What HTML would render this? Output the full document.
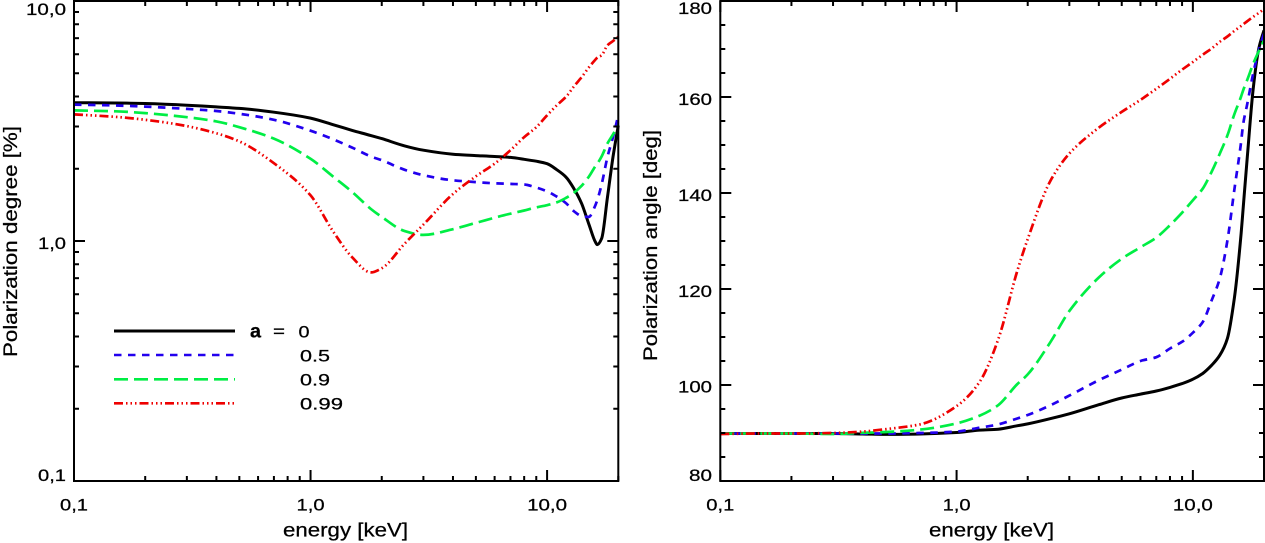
<!DOCTYPE html>
<html>
<head>
<meta charset="utf-8">
<title>Polarization degree and angle vs energy</title>
<style>
html,body{margin:0;padding:0;background:#fff;width:1265px;height:543px;overflow:hidden}
svg{display:block}
text{font-family:"Liberation Sans",sans-serif;font-size:17px;fill:#000;stroke:#000;stroke-width:.25px}
text.title{font-size:19px}
</style>
</head>
<body>
<svg id="figure" width="1265" height="543" viewBox="0 0 1265 543" xmlns="http://www.w3.org/2000/svg">
  <g id="left-panel"></g>
  <g id="right-panel"></g>

  <text class="title" x="283" y="536.5" textLength="125" lengthAdjust="spacingAndGlyphs">energy [keV]</text>
  <text class="title" x="929" y="536.5" textLength="125" lengthAdjust="spacingAndGlyphs">energy [keV]</text>
  <text class="title" transform="translate(17,357) rotate(-90)" textLength="231" lengthAdjust="spacingAndGlyphs">Polarization degree [%]</text>
  <text class="title" transform="translate(657,361) rotate(-90)" textLength="231" lengthAdjust="spacingAndGlyphs">Polarization angle [deg]</text>

  <g>
    <line x1="114" x2="235" y1="331" y2="331" stroke="#000" stroke-width="3"/>
    <line x1="114" x2="235" y1="355" y2="355" stroke="#2200ee" stroke-width="2.6" stroke-dasharray="7.5 6.5"/>
    <line x1="114" x2="235" y1="379.3" y2="379.3" stroke="#00ee44" stroke-width="2.6" stroke-dasharray="14 6"/>
    <line x1="114" x2="235" y1="403.3" y2="403.3" stroke="#ee0000" stroke-width="2.6" stroke-dasharray="9 3 1.5 3 1.5 3 1.5 3"/>
    <text class="title" x="250" y="337.5" font-weight="bold" textLength="11" lengthAdjust="spacingAndGlyphs">a</text>
    <text x="273" y="337" textLength="12" lengthAdjust="spacingAndGlyphs">=</text>
    <text x="298.5" y="337.5" textLength="11" lengthAdjust="spacingAndGlyphs">0</text>
    <text x="300" y="361.5" textLength="30" lengthAdjust="spacingAndGlyphs">0.5</text>
    <text x="300" y="385.5" textLength="30" lengthAdjust="spacingAndGlyphs">0.9</text>
    <text x="300" y="409.5" textLength="43" lengthAdjust="spacingAndGlyphs">0.99</text>
  </g>
</svg>
<script>
const energies = [0.1,0.15,0.2,0.3,0.4,0.5,0.7,1,1.25,1.5,1.8,2,2.5,3,4,5,6,7,8,9,10,11,12,13,14,15,16,16.3,17,18,19,20];

const degreeA0   = [3.77,3.76,3.74,3.68,3.62,3.57,3.44,3.25,3.05,2.89,2.75,2.67,2.49,2.39,2.30,2.27,2.25,2.23,2.19,2.15,2.10,1.98,1.85,1.65,1.43,1.18,0.99,0.966,1.023,1.525,2.24,3.03];
const degreeA05  = [3.70,3.67,3.63,3.55,3.48,3.39,3.20,2.88,2.65,2.45,2.25,2.17,1.98,1.88,1.79,1.76,1.74,1.73,1.72,1.67,1.61,1.53,1.44,1.33,1.27,1.26,1.41,1.48,1.72,2.24,2.71,3.34];
const degreeA09  = [3.50,3.47,3.41,3.28,3.15,2.98,2.67,2.20,1.85,1.60,1.36,1.26,1.10,1.06,1.12,1.19,1.25,1.30,1.34,1.38,1.41,1.45,1.51,1.59,1.70,1.85,2.05,2.10,2.25,2.55,2.78,3.03];
const degreeA099 = [3.37,3.29,3.20,3.01,2.81,2.60,2.11,1.55,1.09,0.855,0.74,0.77,0.975,1.17,1.57,1.86,2.10,2.39,2.71,2.98,3.34,3.68,3.98,4.41,4.82,5.28,5.70,5.81,5.94,6.54,6.81,7.08];

const angleA0   = [89.9,89.9,89.9,89.9,89.8,89.7,89.8,90.1,90.6,90.8,91.5,91.9,93,94,95.9,97.3,98.1,98.75,99.5,100.3,101.2,102.4,104.1,106.2,109.7,118.3,131.5,136.4,147.5,161.7,170,173.9];
const angleA05  = [89.9,89.9,89.9,89.9,89.9,89.9,90,90.3,91.1,91.8,93,93.75,95.8,97.8,101,103.2,105,105.8,107.6,109,110.9,113.1,117.6,122.2,130.1,140.9,150.6,154.1,158.6,164.9,169.7,173.2];
const angleA09  = [89.9,89.9,89.9,89.8,90.05,90.2,90.7,92,93.6,95.8,100.1,102.2,109,115.4,122.4,126.3,128.7,130.7,133.3,135.9,138.5,140.9,144.4,148.2,152,156.5,160.1,161.3,163.6,166.9,169.5,171.8];
const angleA099 = [89.8,89.9,89.9,90,90.3,90.8,91.8,95.6,100.6,109.5,123.5,130.4,142.6,148.2,153.6,156.9,159.4,161.7,163.8,165.7,167.3,168.8,170.1,171.5,172.6,173.8,174.8,175.1,175.8,176.7,177.5,178.3];

const xMajorTicks = [0.1,1,10];
const xMinorTicks = [0.2,0.3,0.4,0.5,0.6,0.7,0.8,0.9,2,3,4,5,6,7,8,9,20];
const xTickLabels = ["0,1","1,0","10,0"];
const degreeMajorTicks = [0.1,1,10];
const degreeMinorTicks = [0.2,0.3,0.4,0.5,0.6,0.7,0.8,0.9,2,3,4,5,6,7,8,9];
const degreeTickLabels = ["0,1","1,0","10,0"];
const angleMajorTicks = [80,100,120,140,160,180];
const angleMinorTicks = [85,90,95,105,110,115,125,130,135,145,150,155,165,170,175];
const angleTickLabels = ["80","100","120","140","160","180"];

const seriesNames = ["a-0","a-0.5","a-0.9","a-0.99"];
const seriesColors = ["#000000","#2200ee","#00ee44","#ee0000"];
const seriesDashes = ["none","7.5 6.5","14 6","9 3 1.5 3 1.5 3 1.5 3"];
const seriesWidths = [3,2.7,2.7,2.7];

const NS = "http://www.w3.org/2000/svg";
const TOP = 1, BOTTOM = 481;

function xAxis(left, right) {
  return function (e) { return left + (right - left) * Math.log10(e / 0.1) / Math.log10(200); };
}
function logY(v) { return TOP + (BOTTOM - TOP) * (1 - Math.log10(v)) / 2; }
function linY(v) { return BOTTOM - (BOTTOM - TOP) * (v - 80) / 100; }

function monotonePath(xs, ys) {
  const n = xs.length, m = [], d = [];
  for (let i = 0; i < n - 1; i++) d.push((ys[i + 1] - ys[i]) / (xs[i + 1] - xs[i]));
  m.push(d[0]);
  for (let i = 1; i < n - 1; i++) {
    if (d[i - 1] * d[i] <= 0) m.push(0);
    else {
      const h0 = xs[i] - xs[i - 1], h1 = xs[i + 1] - xs[i];
      m.push(3 * (h0 + h1) / ((2 * h1 + h0) / d[i - 1] + (h1 + 2 * h0) / d[i]));
    }
  }
  m.push(d[n - 2]);
  let s = "M" + xs[0].toFixed(1) + " " + ys[0].toFixed(1);
  for (let i = 0; i < n - 1; i++) {
    const h = (xs[i + 1] - xs[i]) / 3;
    s += "C" + (xs[i] + h).toFixed(1) + " " + (ys[i] + m[i] * h).toFixed(1) + " " +
         (xs[i + 1] - h).toFixed(1) + " " + (ys[i + 1] - m[i + 1] * h).toFixed(1) + " " +
         xs[i + 1].toFixed(1) + " " + ys[i + 1].toFixed(1);
  }
  return s;
}

function addLine(parent, x1, y1, x2, y2) {
  const l = document.createElementNS(NS, "line");
  
  
  l.setAttribute("x1", x1); l.setAttribute("y1", y1);
  l.setAttribute("x2", x2); l.setAttribute("y2", y2);
  l.setAttribute("stroke", "#000");
  l.setAttribute("stroke-width", "2");
  parent.appendChild(l);
}

function addLabel(parent, str, x, y, width) {
  const t = document.createElementNS(NS, "text");
  
  
  t.setAttribute("x", x);
  t.setAttribute("y", y);
  t.setAttribute("textLength", width);
  t.setAttribute("lengthAdjust", "spacingAndGlyphs");
  t.textContent = str;
  parent.appendChild(t);
}

function drawPanel(parent, left, right, yFn, yMajor, yMinor, yLabels, yLabelRight, yBaselines, series) {
  const xFn = xAxis(left, right);

  series.forEach(function (vals, i) {
    const p = document.createElementNS(NS, "path");
    
    
    p.setAttribute("d", monotonePath(energies.map(xFn), vals.map(yFn)));
    p.setAttribute("fill", "none");
    p.setAttribute("stroke", seriesColors[i]);
    p.setAttribute("stroke-width", seriesWidths[i]);
    p.setAttribute("stroke-linejoin", "round");
    if (seriesDashes[i] !== "none") p.setAttribute("stroke-dasharray", seriesDashes[i]);
    parent.appendChild(p);
  });

  const frame = document.createElementNS(NS, "rect");
  
  
  frame.setAttribute("x", left);
  frame.setAttribute("y", TOP);
  frame.setAttribute("width", right - left);
  frame.setAttribute("height", BOTTOM - TOP);
  frame.setAttribute("fill", "none");
  frame.setAttribute("stroke", "#000");
  frame.setAttribute("stroke-width", "2");
  parent.appendChild(frame);

  xMajorTicks.forEach(function (e) {
    addLine(parent, xFn(e), BOTTOM, xFn(e), BOTTOM - 11);
    addLine(parent, xFn(e), TOP, xFn(e), TOP + 11);
  });
  xMinorTicks.forEach(function (e) {
    addLine(parent, xFn(e), BOTTOM, xFn(e), BOTTOM - 5);
    addLine(parent, xFn(e), TOP, xFn(e), TOP + 5);
  });
  yMajor.forEach(function (v) {
    addLine(parent, left, yFn(v), left + 11, yFn(v));
    addLine(parent, right, yFn(v), right - 11, yFn(v));
  });
  yMinor.forEach(function (v) {
    addLine(parent, left, yFn(v), left + 5, yFn(v));
    addLine(parent, right, yFn(v), right - 5, yFn(v));
  });

  xMajorTicks.forEach(function (e, i) {
    const w = xTickLabels[i].length > 3 ? 40 : 28;
    addLabel(parent, xTickLabels[i], xFn(e) - w / 2, 510.5, w);
  });
  yLabels.forEach(function (s, i) {
    const w = s.indexOf(",") >= 0 ? (s.length > 3 ? 40 : 28) : (s.length > 2 ? 34 : 23);
    addLabel(parent, s, yLabelRight - w, yBaselines[i], w);
  });
}

const degreeLabelBaselines = [481, 249, 15];
const angleLabelBaselines = [481, 392.5, 297, 201, 105, 14];

drawPanel(document.getElementById("left-panel"), 74, 618.3, logY,
  degreeMajorTicks, degreeMinorTicks, degreeTickLabels, 66, degreeLabelBaselines,
  [degreeA0, degreeA05, degreeA09, degreeA099]);

drawPanel(document.getElementById("right-panel"), 720.3, 1264, linY,
  angleMajorTicks, angleMinorTicks, angleTickLabels, 712, angleLabelBaselines,
  [angleA0, angleA05, angleA09, angleA099]);
</script>
</body>
</html>
